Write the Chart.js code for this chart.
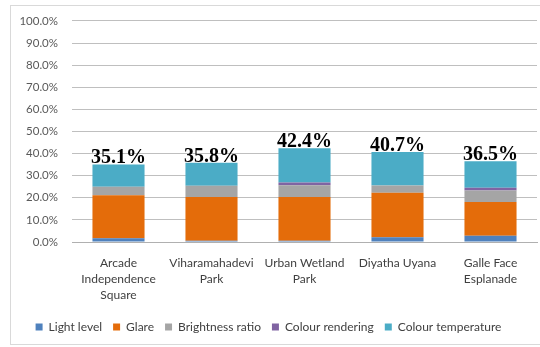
<!DOCTYPE html>
<html>
<head>
<meta charset="utf-8">
<script src="https://cdn.jsdelivr.net/npm/chart.js@4/dist/chart.umd.min.js"></script>
<style>
  html, body { margin: 0; padding: 0; background: #ffffff; }
  #wrap { position: relative; width: 540px; height: 347px; }
</style>
</head>
<body>
<div id="wrap"><canvas id="c" width="540" height="347"></canvas></div>
<script>
// Parks and the share of each lighting criterion (%)
const parks = [
  ['Arcade', 'Independence', 'Square'],
  ['Viharamahadevi', 'Park'],
  ['Urban Wetland', 'Park'],
  ['Diyatha Uyana'],
  ['Galle Face', 'Esplanade']
];
const lightLevel        = [1.7, 0.6, 0.6, 2.1, 2.8];
const glare             = [19.5, 19.7, 19.7, 20.2, 15.3];
const brightnessRatio   = [3.8, 5.1, 5.4, 3.3, 5.2];
const colourRendering   = [0.0, 0.0, 1.2, 0.0, 1.2];
const colourTemperature = [10.1, 10.4, 15.5, 15.1, 12.0];
const yTicks = [0, 10, 20, 30, 40, 50, 60, 70, 80, 90, 100];

const series = [
  { label: 'Light level', data: lightLevel, color: '#4f81bd' },
  { label: 'Glare', data: glare, color: '#e46c0a' },
  { label: 'Brightness ratio', data: brightnessRatio, color: '#a5a5a5' },
  { label: 'Colour rendering', data: colourRendering, color: '#8064a2' },
  { label: 'Colour temperature', data: colourTemperature, color: '#4bacc6' }
];

// outer frame of the chart
const framePlugin = {
  id: 'frame',
  beforeDraw(chart) {
    const ctx = chart.ctx;
    ctx.save();
    ctx.strokeStyle = '#d9d9d9';
    ctx.lineWidth = 1;
    ctx.strokeRect(10.5, 5.5, 560, 339);
    ctx.restore();
  }
};

// bold totals written above each stack
const totalsPlugin = {
  id: 'totals',
  afterDatasetsDraw(chart) {
    const ctx = chart.ctx;
    const y = chart.scales.y;
    const lastMeta = chart.getDatasetMeta(chart.data.datasets.length - 1);
    ctx.save();
    ctx.font = 'bold 20px "Liberation Serif", "Times New Roman", serif';
    ctx.fillStyle = '#000000';
    ctx.textAlign = 'center';
    ctx.textBaseline = 'alphabetic';
    chart.data.labels.forEach((_, i) => {
      let total = 0;
      chart.data.datasets.forEach(ds => { total += ds.data[i]; });
      const x = lastMeta.data[i].x;
      const top = y.getPixelForValue(total);
      ctx.fillText(total.toFixed(1) + '%', x, top - 1);
    });
    ctx.restore();
  }
};

new Chart(document.getElementById('c'), {
  type: 'bar',
  data: {
    labels: parks,
    datasets: series.map(s => ({
      label: s.label,
      data: s.data,
      backgroundColor: s.color,
      borderWidth: 0,
      categoryPercentage: 1.0,
      barPercentage: 0.56
    }))
  },
  options: {
    responsive: false,
    animation: false,
    devicePixelRatio: 1,
    layout: { padding: { top: 13, right: 3, left: 0, bottom: 4 } },
    plugins: {
      legend: {
        position: 'bottom',
        labels: {
          boxWidth: 7,
          boxHeight: 7,
          padding: 11,
          color: '#404040',
          font: { family: 'Lato, "Liberation Sans", sans-serif', size: 12 }
        }
      },
      tooltip: { enabled: false }
    },
    scales: {
      x: {
        stacked: true,
        grid: { display: false, drawTicks: false },
        border: { display: true, color: '#b0b0b0' },
        ticks: {
          color: '#404040',
          padding: 13,
          maxRotation: 0,
          autoSkip: false,
          font: { family: 'Lato, "Liberation Sans", sans-serif', size: 12, lineHeight: 1.35 }
        },
        afterFit(scale) { scale.height = 68; }
      },
      y: {
        stacked: true,
        min: 0,
        max: 100,
        afterBuildTicks(scale) { scale.ticks = yTicks.map(v => ({ value: v })); },
        grid: { color: '#bfbfbf', drawTicks: false },
        border: { display: false },
        ticks: {
          color: '#595959',
          padding: 14,
          font: { family: 'Lato, "Liberation Sans", sans-serif', size: 11.5 },
          callback: v => v.toFixed(1) + '%'
        },
        afterFit(scale) { scale.width = 72; }
      }
    }
  },
  plugins: [framePlugin, totalsPlugin]
});
</script>
</body>
</html>
